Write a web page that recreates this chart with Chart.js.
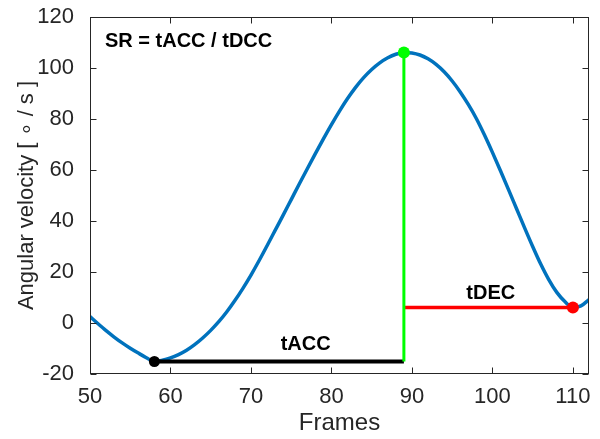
<!DOCTYPE html>
<html>
<head>
<meta charset="utf-8">
<script src="https://cdn.jsdelivr.net/npm/chart.js@4.4.0/dist/chart.umd.min.js"></script>
<style>
  html, body { margin: 0; padding: 0; background: #fff; }
  canvas { display: block; }
</style>
</head>
<body>
<canvas id="chart" width="600" height="439"></canvas>
<script>
// angular velocity per frame
var frames = [];
for (var f = 50; f <= 112; f++) frames.push(f);
var velocity = [
    2.5, -0.3, -3.0, -5.5, -7.8, -9.9, -11.8, -13.6, -15.1, -14.6,   // 50-59
    -13.7, -12.4, -10.7, -8.5, -5.9, -2.9, 0.5, 4.4, 8.8, 13.6,      // 60-69
    18.8, 24.4, 30.3, 36.3, 42.3, 48.4, 54.5, 60.5, 66.4, 72.2,      // 70-79
    77.8, 83.1, 88.0, 92.4, 96.2, 99.4, 102.0, 104.0, 105.4, 106.1,  // 80-89
    105.9, 105.1, 103.6, 101.4, 98.5, 94.9, 90.6, 85.7, 80.2, 73.8,  // 90-99
    66.9, 59.7, 52.3, 44.8, 37.3, 30.0, 23.1, 17.0, 12.0, 8.4,       // 100-109
    6.1, 6.7, 9.2                                                    // 110-112
];
var xTicks = [50, 60, 70, 80, 90, 100, 110];
var yTicks = [-20, 0, 20, 40, 60, 80, 100, 120];

// start of acceleration, peak, end of deceleration
var eventFrames = [58, 89, 110];
var eventColors = ["#000000", "#00ff00", "#ff0000"];

var labelTexts = ["tACC", "tDEC"];
var labelFrames = [76.8, 99.8];
var labelValues = [-8.5, 11.7];
var ratioText = "SR = tACC / tDCC";

var axisColor = "#262626";
var fontFamily = "'Liberation Sans', Arial, Helvetica, sans-serif";

var valueAt = function(frame) {
    return velocity[frames.indexOf(frame)];
};

var tStart = eventFrames[0], tPeak = eventFrames[1], tEnd = eventFrames[2];
var vStart = valueAt(tStart), vPeak = valueAt(tPeak), vEnd = valueAt(tEnd);

var curve = frames.map(function(f, i) { return {x: f, y: velocity[i]}; });
var dots = eventFrames.map(function(f) { return {x: f, y: valueAt(f)}; });

// inward ticks, box and text annotations
var matlabAxes = {
    id: "matlabAxes",
    afterDraw: function(chart) {
        var ctx = chart.ctx;
        var a = chart.chartArea;
        var xs = chart.scales.x, ys = chart.scales.y;
        var L = Math.round(a.left) + 0.5, R = Math.round(a.right) - 0.5;
        var T = Math.round(a.top) + 0.5, B = Math.round(a.bottom) - 0.5;
        ctx.save();
        ctx.strokeStyle = axisColor;
        ctx.lineWidth = 1;
        ctx.strokeRect(L, T, R - L, B - T);
        ctx.beginPath();
        xTicks.forEach(function(v) {
            var px = Math.round(xs.getPixelForValue(v)) + 0.5;
            ctx.moveTo(px, B); ctx.lineTo(px, B - 6);
            ctx.moveTo(px, T); ctx.lineTo(px, T + 6);
        });
        yTicks.forEach(function(v) {
            var py = Math.round(ys.getPixelForValue(v)) + 0.5;
            ctx.moveTo(L, py); ctx.lineTo(L + 6, py);
            ctx.moveTo(R, py); ctx.lineTo(R - 6, py);
        });
        ctx.stroke();

        ctx.fillStyle = "#000";
        ctx.font = "bold 20px " + fontFamily;
        ctx.textAlign = "left";
        ctx.textBaseline = "middle";
        ctx.fillText(ratioText, a.left + 15, a.top + 24);
        ctx.textAlign = "center";
        labelTexts.forEach(function(t, i) {
            ctx.fillText(t, xs.getPixelForValue(labelFrames[i]), ys.getPixelForValue(labelValues[i]));
        });
        ctx.restore();
    }
};

var config = {
    type: "line",
    data: {
        datasets: [{
            data: dots,
            type: "scatter",
            pointRadius: [5.5, 6, 6],
            pointBackgroundColor: eventColors,
            pointBorderWidth: 0,
            order: 0
        }, {
            data: [{x: tPeak, y: vStart}, {x: tPeak, y: vPeak}],
            borderColor: eventColors[1],
            borderWidth: 3,
            pointRadius: 0,
            order: 1
        }, {
            data: [{x: tStart, y: vStart}, {x: tPeak, y: vStart}],
            borderColor: eventColors[0],
            borderWidth: 4,
            pointRadius: 0,
            order: 2
        }, {
            data: [{x: tPeak, y: vEnd}, {x: tEnd, y: vEnd}],
            borderColor: eventColors[2],
            borderWidth: 3.5,
            pointRadius: 0,
            order: 3
        }, {
            data: curve,
            borderColor: "#0072bd",
            borderWidth: 3.5,
            pointRadius: 0,
            cubicInterpolationMode: "monotone",
            order: 4
        }]
    },
    options: {
        responsive: false,
        animation: false,
        devicePixelRatio: 1,
        layout: { padding: { top: 17, right: 11, left: 0, bottom: 0 } },
        plugins: { legend: { display: false }, tooltip: { enabled: false } },
        scales: {
            x: {
                type: "linear",
                min: 50,
                max: 112,
                grid: { display: false },
                border: { display: false },
                afterFit: function(scale) {
                    scale.height = 65;
                    scale.paddingLeft = 0;
                    scale.paddingRight = 0;
                },
                afterBuildTicks: function(scale) {
                    scale.ticks = xTicks.map(function(v) { return {value: v}; });
                },
                ticks: {
                    padding: 2,
                    color: axisColor,
                    font: { family: fontFamily, size: 22 },
                    maxRotation: 0
                },
                title: {
                    display: true,
                    text: "Frames",
                    color: axisColor,
                    font: { family: fontFamily, size: 24 },
                    padding: { top: 0, bottom: 1 }
                }
            },
            y: {
                min: -20,
                max: 120,
                grid: { display: false },
                border: { display: false },
                afterFit: function(scale) {
                    scale.width = 90;
                    scale.paddingTop = 0;
                    scale.paddingBottom = 0;
                },
                afterBuildTicks: function(scale) {
                    scale.ticks = yTicks.map(function(v) { return {value: v}; });
                },
                ticks: {
                    padding: 8,
                    color: axisColor,
                    font: { family: fontFamily, size: 22 }
                },
                title: {
                    display: true,
                    text: "Angular velocity [ \u2218 / s ]",
                    color: axisColor,
                    font: { family: fontFamily, size: 22 },
                    padding: { top: 14, bottom: 0 }
                }
            }
        }
    },
    plugins: [matlabAxes]
};

var ctx = document.getElementById("chart").getContext("2d");
var oneChart = new Chart(ctx, config);
</script>
</body>
</html>
